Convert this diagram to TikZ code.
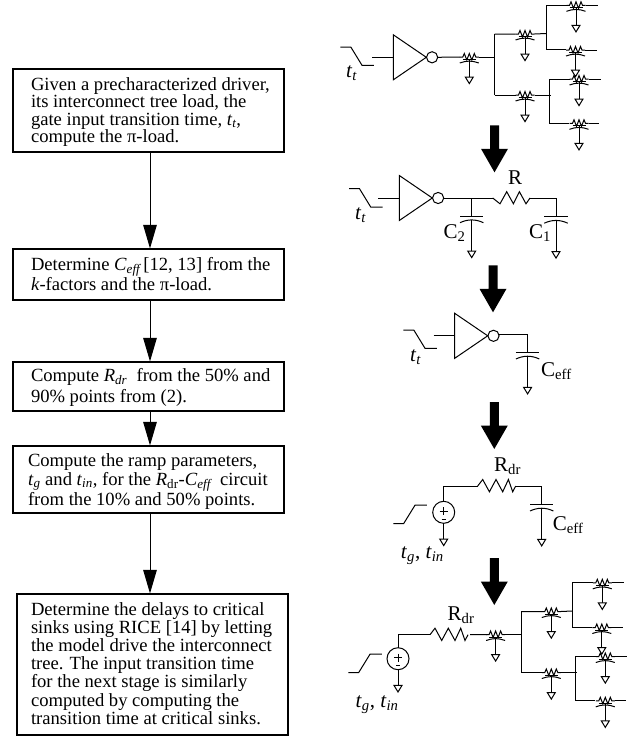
\documentclass[tikz,border=0pt]{standalone}
\usepackage{fontspec}
\setmainfont{Liberation Serif}
\usetikzlibrary{arrows.meta}
\newcommand{\btext}[5]{\makebox[#1][l]{\hspace*{#2}\raisebox{#4}[0pt][0pt]{\parbox[t]{\dimexpr#1-#2\relax}{\setlength{\baselineskip}{#3}\raggedright #5\par}}}}
\newcommand{\isub}[1]{\textsubscript{\itshape #1}}
\newcommand{\rsub}[1]{\textsubscript{#1}}
\tikzset{
  x=1pt,y=-1pt,
  wire/.style={line width=1pt,line join=miter},
  stepbox/.style={draw,line width=1.1pt,inner sep=0pt,font=\fontsize{18.6}{18}\selectfont},
  flow/.style={line width=1pt,-{Triangle[width=13.5pt,length=23.5pt]}},
  lab/.style={inner sep=0pt,anchor=base west,font=\fontsize{21}{22}\selectfont},
  bigarrow/.style={fill=black,draw=none},
  gnd/.style={line width=1pt,fill=white},
  pics/ground/.style={code={
    \draw[gnd] (-4,0) -- (4,0) -- (0,6.6) -- cycle;}},
  pics/rc/.style={code={
    \draw[wire] (-9.5,0) -- (-6.5,0) -- (-5,-3.5) -- (-2.5,3) -- (0,-3.5) -- (2.5,3) -- (5,-3.5) -- (6.5,0) -- (9.5,0);
    \draw[wire] (-6.5,2.5) -- (6.5,2.5);
    \draw[wire] (-9.5,6) .. controls (-3,3.5) and (3,3.5) .. (9.5,6);
    \draw[wire] (0,3) -- (0,20);
    \pic at (0,20) {ground};}},
  pics/bigres/.style={code={
    \draw[wire] (0,0) -- (7.3,5.8) -- (14,-6.3) -- (20.7,5.8) -- (26.7,-6.3) -- (33.3,5.8) -- (37.3,0);}},
  pics/bigresup/.style={code={
    \draw[wire] (0,0) -- (5,-6.5) -- (11.7,5.8) -- (18.3,-6.5) -- (25,5.8) -- (30.7,-6.5) -- (35,5.8) -- (38,0);}},
  pics/capgnd/.style={code={
    \draw[wire] (-11.7,0) -- (11.7,0);
    \draw[wire] (-11.7,6.7) .. controls (-4,3) and (4,3) .. (11.7,6.7);
    \draw[wire] (0,3.8) -- (0,35);
    \pic at (0,35) {ground};}},
  pics/bigdown/.style={code={
    \fill[bigarrow] (-4.5,0) -- (4.5,0) -- (4.5,23.5) -- (13.5,23.5) -- (0,47) -- (-13.5,23.5) -- (-4.5,23.5) -- cycle;}},
  pics/fallwave/.style={code={
    \draw[wire] (0,0) -- (10.5,0) -- (21.7,18.3) -- (33.5,18.3);}},
  pics/risewave/.style={code={
    \draw[wire] (0,0) -- (10.3,0) -- (21.7,-18.5) -- (33.5,-18.5);}},
  pics/inverter/.style={code={
    \draw[wire] (-21,0) -- (0,0);
    \draw[wire] (0,-22.5) -- (33,0) -- (0,22.5) -- cycle;
    \draw[wire] (38.8,0) circle[radius=5.6];}},
  pics/source/.style={code={
    \draw[wire] (0,0) circle[radius=11];
    \draw[line width=0.6pt] (-4,-1) -- (4,-1) (0,-5) -- (0,3);
    \draw[line width=0.9pt] (-2,7) -- (2,7);
    \draw[wire] (0,11) -- (0,26.7);
    \pic at (0,26.7) {ground};}},
  pics/tree/.style={code={
    \draw[wire] (478.7,57) -- (494.7,57);
    \draw[wire] (494.7,34) -- (494.7,95);
    \draw[wire] (494.7,34) -- (515.5,34) (534.5,34) -- (546,33.5);
    \draw[wire] (494.7,95) -- (515.5,95) (534.5,95) -- (550.7,95);
    \draw[wire] (566.5,5.3) -- (546,5.3) -- (546,49.5) -- (566,49.5);
    \draw[wire] (569.5,79.3) -- (549,79.3) -- (549,123.3) -- (569,123.3);
    \pic at (469.3,57) {rc};
    \pic at (525,34) {rc};
    \pic at (525,95) {rc};
    \pic at (579,123.3) {rc};
    \pic at (575.5,50) {rc};
    \pic at (579,79) {rc};
    \pic at (576,5.3) {rc};
    \draw[wire] (585.5,5.3) -- (597.7,5.3);
    \draw[wire] (585,50) -- (596.7,50);
    \draw[wire] (588.5,79) -- (600.7,79);
    \draw[wire] (588.5,123.3) -- (599.3,123.3);
  }}
}
\begin{document}
\begin{tikzpicture}
\useasboundingbox (0,0) rectangle (641,736);
\fill[white] (0,0) rectangle (641,736);
% flow chart
\node[stepbox,minimum width=271pt,minimum height=83pt] (b1) at (148.5,110.5)
  {\btext{271pt}{18pt}{17.6pt}{20.5pt}{Given a precharacterized driver,\\its interconnect tree load, the\\gate input transition time, \textit{t}\isub{t},\\compute the π-load.}};
\node[stepbox,minimum width=271pt,minimum height=51pt] (b2) at (148.5,274.5)
  {\btext{271pt}{18pt}{18.2pt}{3.8pt}{Determine \textit{C}\isub{eff}\,[12, 13] from the\\\textit{k}-factors and the π-load.}};
\node[stepbox,minimum width=271pt,minimum height=49pt] (b3) at (148.5,386.5)
  {\btext{271pt}{18pt}{20.3pt}{4.8pt}{Compute \textit{R}\isub{dr}\ \ from the 50\% and\\90\% points from (2).}};
\node[stepbox,minimum width=271pt,minimum height=67pt] (b4) at (148.5,479.5)
  {\btext{271pt}{15pt}{18.6pt}{12.8pt}{Compute the ramp parameters,\\\textit{t}\isub{g} and \textit{t}\isub{in}, for the \textit{R}\rsub{dr}-\textit{C}\isub{eff}\ \ circuit\\from the 10\% and 50\% points.}};
\node[stepbox,minimum width=271pt,minimum height=141pt] (b5) at (152.5,664.5)
  {\btext{271pt}{14pt}{18.2pt}{49.5pt}{Determine the delays to critical\\sinks using RICE [14] by letting\\the model drive the interconnect\\tree. The input transition time\\for the next stage is similarly\\computed by computing the\\transition time at critical sinks.}};
\coordinate (c1) at (150,152);
\coordinate (c2) at (150,300);
\coordinate (c3) at (150,411);
\coordinate (c4) at (150,513);
\draw[flow] (c1) -- (c1 |- b2.north);
\draw[flow] (c2) -- (c2 |- b3.north);
\draw[flow] (c3) -- (c3 |- b4.north);
\draw[flow] (c4) -- (c4 |- b5.north);
% big arrows
\pic at (494.5,125.3) {bigdown};
\pic at (493,265.3) {bigdown};
\pic at (494.3,402) {bigdown};
\pic at (494.3,558) {bigdown};
% circuit 1
\pic at (340.3,47) {fallwave};
\pic at (393.3,57.3) {inverter};
\draw[wire] (437.9,57.3) -- (460,57);
\pic {tree};
\node[lab] (t1) at (346,77) {\textit{t}\isub{t}};
% circuit 2
\pic at (349,188.7) {fallwave};
\pic at (399.3,198) {inverter};
\draw[wire] (443.7,198) -- (492.7,198);
\pic at (492.7,198) {bigres};
\draw[wire] (530,198) -- (556,198) -- (556,216.3);
\draw[wire] (471.7,198) -- (471.7,215.7);
\pic at (471.7,216) {capgnd};
\pic at (556,216.5) {capgnd};
\node[lab] (t2) at (355,219.3) {\textit{t}\isub{t}};
\node[lab] (lR) at (508,184) {R};
\node[lab] (lC2) at (443.5,238) {C\rsub{2}};
\node[lab] (lC1) at (529,238) {C\rsub{1}};
% circuit 3
\pic at (403.3,330) {fallwave};
\pic at (454.7,335.8) {inverter};
\draw[wire] (499,334) -- (527.6,334) -- (527.6,352.3);
\pic at (527.6,352.3) {capgnd};
\node[lab] (t3) at (410,361) {\textit{t}\isub{t}};
\node[lab] (lC3) at (541,376) {C\rsub{eff}};
% circuit 4
\pic at (393.3,523.7) {risewave};
\pic at (443.7,512.3) {source};
\draw[wire] (443.7,501.3) -- (443.7,486.3) -- (477.7,486.3);
\pic at (477.7,486) {bigresup};
\draw[wire] (515.5,486) -- (541.7,486) -- (541.7,504.3);
\pic at (541.7,504.3) {capgnd};
\node[lab] (lR4) at (494,471.7) {R\rsub{dr}};
\node[lab] (lC4) at (552.7,530) {C\rsub{eff}};
\node[lab] (t4) at (400.7,558.3) {\textit{t}\isub{g}, \textit{t}\isub{in}};
% circuit 5
\pic at (348.3,672.7) {risewave};
\pic at (398,658.7) {source};
\draw[wire] (398,647.7) -- (398,634.7) -- (430,634.7);
\begin{scope}[shift={(430,634.7)},xscale=1.05]
\pic {bigresup};
\end{scope}
\draw[wire] (470,634.7) -- (487,634.5);
\begin{scope}[shift={(26.3,577.5)}]
\pic {tree};
\end{scope}
\node[lab] (lR5) at (447.5,620) {R\rsub{dr}};
\node[lab] (t5) at (355.5,707) {\textit{t}\isub{g}, \textit{t}\isub{in}};
\end{tikzpicture}
\end{document}
